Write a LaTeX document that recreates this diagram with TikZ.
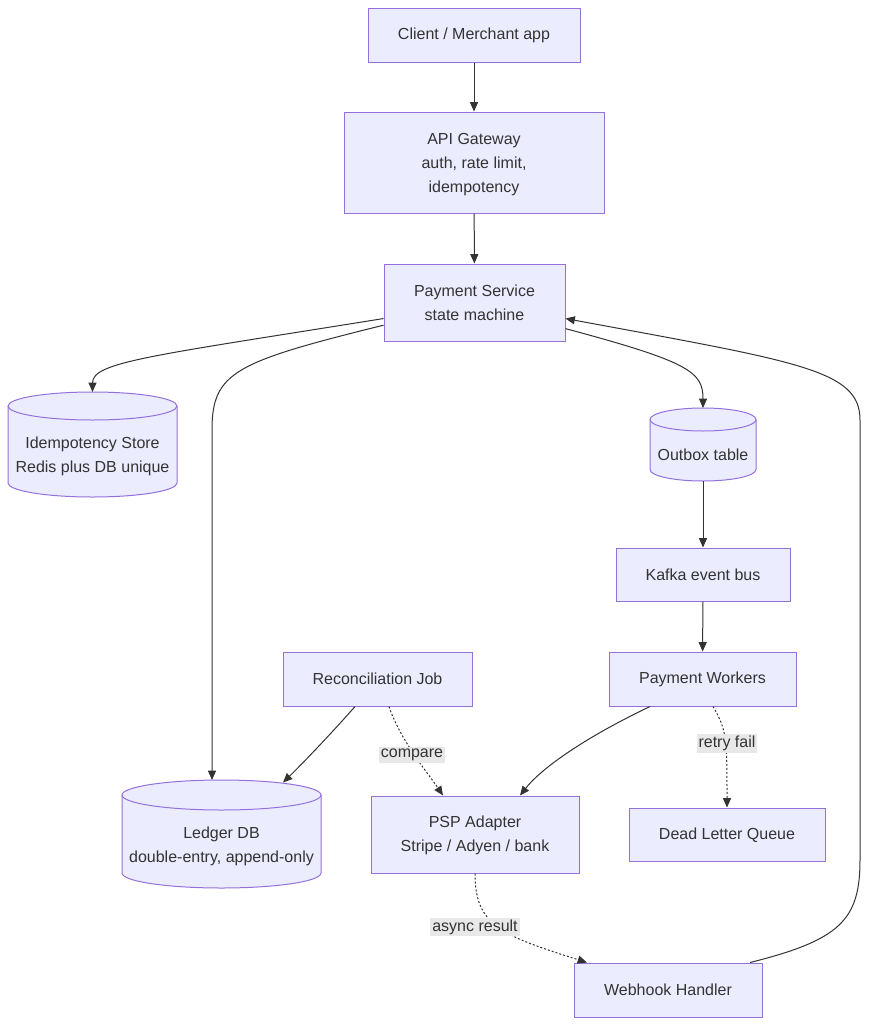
\documentclass[tikz,border=0pt]{standalone}
\usepackage{fontspec}
\setmainfont{Liberation Sans}
\usetikzlibrary{arrows.meta,calc}
\definecolor{lav}{HTML}{ECECFF}
\definecolor{purp}{HTML}{9370DB}
\definecolor{txt}{HTML}{333333}
\definecolor{lblbg}{HTML}{E8E8E8}
\begin{document}
\begin{tikzpicture}[x=0.75pt,y=-0.75pt,
  lab/.style={text=txt,align=center,font=\fontsize{12}{18}\selectfont},
  box/.style={lab,draw=purp,fill=lav,line width=0.75pt,inner sep=0pt},
  cyl/.style={draw=purp,fill=lav,line width=0.75pt},
  edge/.style={draw=txt,line width=0.75pt,-{Triangle[length=7pt,width=6pt]}},
  dots/.style={dash pattern=on 1.5pt off 1.5pt},
  lbl/.style={lab,fill=lblbg,inner sep=1.5pt}]
\useasboundingbox[fill=white] (0,0) rectangle (868,1025);

% rectangles
\node[box,minimum width=159pt,minimum height=40.5pt] (client) at (474,35) {Client / Merchant app};
\node[box,minimum width=195pt,minimum height=75.75pt] (api) at (474,162.5) {};
\node[lab] (apitext) at (474,164.5) {API Gateway\\auth, rate limit,\\idempotency};
\node[box,minimum width=135.75pt,minimum height=57.75pt] (ps) at (474.5,302.5) {Payment Service\\state machine};
\node[box,minimum width=130.5pt,minimum height=39.75pt] (kafka) at (703,574.5) {Kafka event bus};
\node[box,minimum width=140.25pt,minimum height=40.5pt] (workers) at (702.5,679) {Payment Workers};
\node[box,minimum width=141.75pt,minimum height=40.5pt] (recon) at (377.5,679) {Reconciliation Job};
\node[box,minimum width=156pt,minimum height=57.75pt] (psp) at (475,834.5) {};
\node[lab] (psptext) at (475,835.5) {PSP Adapter\\Stripe / Adyen / bank};
\node[box,minimum width=147pt,minimum height=39.75pt] (dlq) at (727,834.5) {};
\node[lab] (dlqtext) at (727,835.5) {Dead Letter Queue};
\node[box,minimum width=141pt,minimum height=40.5pt] (webhook) at (668,990) {Webhook Handler};

% cylinders
\path[cyl] (8,406) -- (8,483) arc[start angle=180,end angle=360,x radius=63.375pt,y radius=10.5pt] -- (177,406) arc[start angle=0,end angle=180,x radius=63.375pt,y radius=10.5pt] -- cycle;
\draw[purp,line width=0.75pt] (8,406) arc[start angle=180,end angle=360,x radius=63.375pt,y radius=10.5pt];
\node[lab] (idem) at (92.5,456) {Idempotency Store\\Redis plus DB unique};
\coordinate (idemtop) at (92.5,392);

\path[cyl] (650,419.5) -- (650,469.5) arc[start angle=180,end angle=360,x radius=39.75pt,y radius=8.625pt] -- (756,419.5) arc[start angle=0,end angle=180,x radius=39.75pt,y radius=8.625pt] -- cycle;
\draw[purp,line width=0.75pt] (650,419.5) arc[start angle=180,end angle=360,x radius=39.75pt,y radius=8.625pt];
\node[lab] (outbox) at (703,455) {Outbox table};
\coordinate (outboxtop) at (703,408);
\coordinate (outboxbot) at (703,481);

\path[cyl] (122,795) -- (122,873) arc[start angle=180,end angle=360,x radius=74.625pt,y radius=11.25pt] -- (321,795) arc[start angle=0,end angle=180,x radius=74.625pt,y radius=11.25pt] -- cycle;
\draw[purp,line width=0.75pt] (122,795) arc[start angle=180,end angle=360,x radius=74.625pt,y radius=11.25pt];
\node[lab] (ledger) at (221.5,846) {Ledger DB\\double-entry, append-only};
\coordinate (ledgertop) at (212,780);
\coordinate (ledgerrim) at (283,782.5);

% edges
\draw[edge] (client) -- (api);
\draw[edge] (api) -- (ps);
\draw[edge] (ps.190) .. controls (150,356) and (92.5,362) .. (idemtop);
\draw[edge] (ps.194) .. controls (235,362) and (212,372) .. (212,430) -- (ledgertop);
\draw[edge] (ps.344) .. controls (690,362) and (703,372) .. (outboxtop);
\draw[edge] (outboxbot) -- (kafka);
\draw[edge] (kafka) -- (workers);
\draw[edge] ($(recon.south)+(-22.5,0)$) .. controls (330,735) and (300,766) .. (ledgerrim);
\draw[edge,dots] ($(recon.south)+(11.5,0)$) .. controls (400,740) and (430,776) .. ($(psp.north)+(-32,0)$);
\draw[edge] ($(workers.south)+(-52.5,0)$) .. controls (580,740) and (540,770) .. ($(psp.north)+(45,0)$);
\draw[edge,dots] ($(workers.south)+(10.5,0)$) .. controls (727,730) and (727,740) .. (dlq.north);
\draw[edge,dots] (psp.south) .. controls (475,925) and (500,935) .. ($(webhook.north)+(-81,0)$);
\draw[edge] ($(webhook.north)+(82,0)$) .. controls (840,940) and (860,920) .. (860,860) -- (860,420) .. controls (860,370) and (800,362) .. (ps.350);

% edge labels
\node[lbl] (lcompare) at (412,755) {compare};
\node[lbl] (lretry) at (727,743.5) {retry fail};
\node[lbl] (lasync) at (475,927) {async result};
\end{tikzpicture}
\end{document}
